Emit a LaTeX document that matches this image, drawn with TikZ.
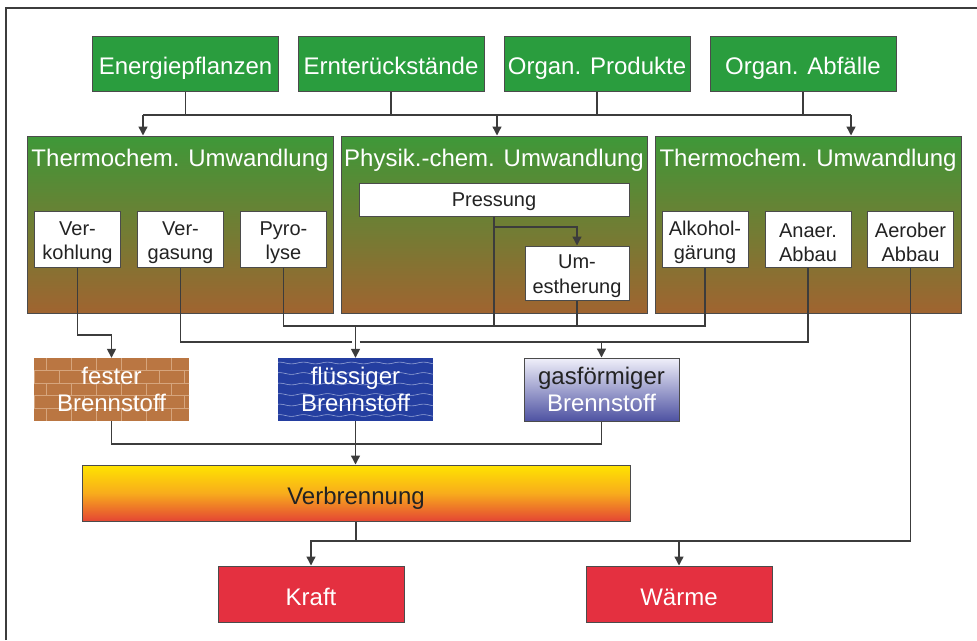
\documentclass[tikz,border=0pt]{standalone}
\usepackage{fontspec}
\setmainfont{Liberation Sans}
\usetikzlibrary{arrows.meta,calc,decorations.pathmorphing}

\definecolor{linec}{RGB}{60,60,60}
\definecolor{boxline}{RGB}{75,75,75}
\definecolor{darktxt}{RGB}{35,35,35}
\definecolor{srcgreen}{RGB}{42,157,62}
\definecolor{bigtop}{RGB}{62,152,56}
\definecolor{bigbot}{RGB}{160,100,48}
\definecolor{outred}{RGB}{228,48,64}
\definecolor{brickc}{RGB}{186,118,66}
\definecolor{mortarc}{RGB}{214,165,125}
\definecolor{liqc}{RGB}{36,62,160}
\definecolor{wavec}{RGB}{150,165,215}
\definecolor{gastop}{RGB}{240,240,250}
\definecolor{gasbot}{RGB}{78,82,162}
\definecolor{firetop}{RGB}{255,228,0}
\definecolor{firemid}{RGB}{248,172,28}
\definecolor{firebot}{RGB}{228,70,52}

\tikzset{
  line/.style={draw=linec,line width=1.4pt},
  arr/.style={line,-{Triangle[length=9pt,width=9pt]}},
  box/.style={draw=boxline,line width=1pt,inner sep=0pt,
    text height=24pt,text depth=2pt,font=\fontsize{24}{27}\selectfont},
  src/.style={box,fill=srcgreen,text=white,minimum width=186pt,minimum height=55pt},
  big/.style={draw=boxline,line width=1pt,inner sep=0pt,top color=bigtop,
    bottom color=bigbot,minimum width=306pt,minimum height=177pt},
  ttl/.style={text=white,font=\fontsize{24}{28}\selectfont,inner sep=0pt,anchor=base},
  sub/.style={draw=boxline,line width=1pt,fill=white,inner sep=0pt,text=darktxt,
    minimum width=86pt,minimum height=56pt,align=center,
    font=\fontsize{20}{24.3}\selectfont},
  fuel/.style={inner sep=0pt,minimum width=155pt,minimum height=63pt,align=center,
    text=white,font=\fontsize{24}{27.4}\selectfont},
  mortar/.style={draw=mortarc,line width=0.7pt},
  brick/.style={fill=brickc,path picture={
    \foreach \r in {1,...,4}
      \draw[mortar] ($(path picture bounding box.north west)+(0,12.6*\r)$) -- ++(160,0);
    \foreach \r in {0,...,4} {
      \pgfmathsetmacro\brkoff{12.5*(1-mod(\r,2))}
      \foreach \k in {0,...,6}
        \draw[mortar] ($(path picture bounding box.north west)+(\brkoff+25*\k,12.6*\r)$) -- ++(0,12.6);
    }}},
  wave/.style={fill=liqc,path picture={
    \foreach \r in {0,...,5}
      \draw[wavec,line width=0.6pt,decorate,decoration={snake,amplitude=0.9pt,segment length=24pt}]
        ($(path picture bounding box.north west)+(-6,5+10.5*\r)$) -- ++(175,0);
    }}
}

\begin{document}
\begin{tikzpicture}[x=1pt,y=-1pt,line join=miter]
  \useasboundingbox (0,0) rectangle (977,640);
  \def\hstrut{\rule{0pt}{20.5pt}}
  \draw[draw=linec,line width=1.5pt] (6,640) -- (6,8) -- (977,8);

  % sources
  \node[src] (ener) at (185.5,63.5) {Energiepflanzen};
  \node[src] (ernte) at (391,63.5) {Ernterückstände};
  \node[src] (prod) at (597,63.5) {Organ. Produkte};
  \node[src] (abf) at (803,63.5) {Organ. Abfälle};

  % conversion
  \node[big] (tcl) at (180,224.5) {};
  \node[big] (pcm) at (494,224.5) {};
  \node[big] (tcr) at (808,224.5) {};
  \node[ttl] (tclt) at ([yshift=-30.5pt]tcl.north) {Thermochem. Umwandlung};
  \node[ttl] (pcmt) at ([yshift=-30.5pt]pcm.north) {Physik.-chem. Umwandlung};
  \node[ttl] (tcrt) at ([yshift=-30.5pt]tcr.north) {Thermochem. Umwandlung};

  \node[sub] (verk) at (77.5,239) {\hstrut Ver-\\kohlung};
  \node[sub] (verg) at (180.5,239) {\hstrut Ver-\\gasung};
  \node[sub] (pyro) at (283.5,239) {\hstrut Pyro-\\lyse};
  \node[sub,minimum width=270pt,minimum height=33pt,text height=14.4pt,text depth=0pt]
    (press) at (494,199.5) {Pressung};
  \node[sub,minimum width=104pt,minimum height=54pt] (umest) at (577,273) {\rule{0pt}{20pt}Um-\\estherung};
  \node[sub] (alk) at (705,239) {\hstrut Alkohol-\\gärung};
  \node[sub] (anae) at (808,239) {\hstrut Anaer.\\Abbau};
  \node[sub] (aero) at (910.5,239) {\hstrut Aerober\\Abbau};

  % fuels
  \node[fuel,brick] (fest) at (111.5,389.5) {fester\\Brennstoff};
  \node[fuel,wave] (fluess) at (355.5,389.5) {flüssiger\\Brennstoff};
  \node[fuel,draw=boxline,line width=1pt,top color=gastop,bottom color=gasbot]
    (gas) at (601.5,389.5) {{\color{darktxt}gasförmiger}\\Brennstoff};

  \node[box,minimum width=548pt,minimum height=56pt,top color=firetop,
    bottom color=firebot,middle color=firemid,text=darktxt] (verbr) at (356,493) {Verbrennung};
  \node[box,fill=outred,text=white,minimum width=186pt,minimum height=56pt] (kraft) at (311,594) {Kraft};
  \node[box,fill=outred,text=white,minimum width=186pt,minimum height=56pt] (waerme) at (679,594) {Wärme};

  % bus levels
  \coordinate (yin) at (0,115);
  \coordinate (ypu) at (0,227);
  \coordinate (yfl) at (0,326);
  \coordinate (yfe) at (0,335);
  \coordinate (yga) at (0,342);
  \coordinate (ybr) at (0,444);
  \coordinate (yout) at (0,541);
  \coordinate (inL) at ([xshift=-37pt]tcl.north);
  \coordinate (inM) at ([xshift=3pt]pcm.north);
  \coordinate (inR) at ([xshift=43pt]tcr.north);
  \coordinate (gapL) at ($(fluess.north |- yga)+(-4,0)$);
  \coordinate (gapR) at ($(fluess.north |- yga)+(4,0)$);

  \draw[line] (inL |- yin) -- (inR |- yin);
  \foreach \n in {ener,ernte,prod,abf}
    \draw[line] (\n.south) -- (\n.south |- yin);
  \foreach \n in {inL,inM,inR}
    \draw[arr] (\n |- yin) -- (\n);

  \draw[arr] (press.south |- ypu) -| (umest.north);
  \draw[line] (pyro.south) |- (alk.south |- yfl) -- (alk.south);
  \draw[line] (press.south) -- (press.south |- yfl);
  \draw[line] (umest.south) -- (umest.south |- yfl);
  \draw[arr] (fluess.north |- yfl) -- (fluess.north);
  \draw[arr] (verk.south) |- (fest.north |- yfe) -- (fest.north);
  \draw[line] (verg.south) |- (gapL);
  \draw[line] (gapR) -| (anae.south);
  \draw[arr] (gas.north |- yga) -- (gas.north);

  \draw[line] (fest.south) |- (gas.south |- ybr) -- (gas.south);
  \draw[arr] (fluess.south) -- (fluess.south |- verbr.north);
  \draw[line] (verbr.south) -- (verbr.south |- yout);
  \draw[arr] (aero.south) |- (kraft.north |- yout) -- (kraft.north);
  \draw[arr] (waerme.north |- yout) -- (waerme.north);
\end{tikzpicture}
\end{document}
